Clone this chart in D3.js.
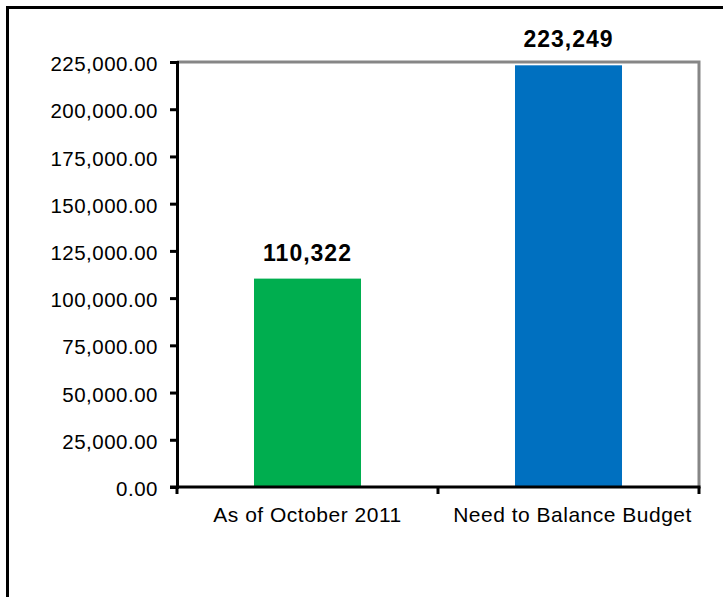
<!DOCTYPE html>
<html>
<head>
<meta charset="utf-8">
<script src="https://cdn.jsdelivr.net/npm/d3@7"></script>
<style>
	body { margin: 0; background: #fff; }
	svg { display: block; font-family: "Liberation Sans", Arial, sans-serif; }
	.tick text { fill: #000; }
</style>
</head>
<body>
<svg width="723" height="597"></svg>
<script>
var categories = ["As of October 2011", "Need to Balance Budget"];
var values = [110322, 223249];
var barColors = ["#00ae4f", "#0070c0"];
var yTicks = [0, 25000, 50000, 75000, 100000, 125000, 150000, 175000, 200000, 225000];

function draw() {
	var svg = d3.select("svg");
	var left = 177, right = 699, top = 62, bottom = 487;

	// outer frame runs past the bottom and right edge of the picture
	svg.append("rect")
		.attr("x", 7.5).attr("y", 7.5).attr("width", 800).attr("height", 700)
		.attr("fill", "none").attr("stroke", "#000").attr("stroke-width", 3);

	var x = d3.scaleBand().domain(categories).range([left, right])
		.paddingInner(0.59).paddingOuter(0.295);
	var y = d3.scaleLinear().domain([0, 225000]).range([bottom, top]);

	// gray plot border (top and right)
	svg.append("path")
		.attr("d", "M" + left + "," + top + "H" + right + "V" + bottom)
		.attr("fill", "none").attr("stroke", "#868686").attr("stroke-width", 3);

	svg.selectAll("rect.bar")
		.data(values)
		.enter().append("rect").attr("class", "bar")
			.attr("x", function(d, i) { return x(categories[i]); })
			.attr("y", function(d) { return y(d); })
			.attr("width", x.bandwidth())
			.attr("height", function(d) { return y(0) - y(d); })
			.attr("fill", function(d, i) { return barColors[i]; });

	svg.selectAll("text.value")
		.data(values)
		.enter().append("text").attr("class", "value")
			.attr("x", function(d, i) { return x(categories[i]) + x.bandwidth()/2; })
			.attr("y", function(d) { return y(d) - 18; })
			.attr("text-anchor", "middle")
			.attr("font-size", 23).attr("font-weight", "bold").attr("letter-spacing", 1)
			.text(d3.format(","));

	var fmt = d3.format(",.2f");
	var yAxis = svg.append("g").attr("transform", "translate(" + left + ",0)")
		.call(d3.axisLeft(y).tickValues(yTicks).tickFormat(fmt).tickSizeOuter(0).tickSize(7).tickPadding(12));
	yAxis.select(".domain").attr("stroke-width", 3);
	yAxis.selectAll(".tick line").attr("stroke-width", 3);
	yAxis.selectAll(".tick text").attr("font-size", 20.5).attr("letter-spacing", 0.5).attr("dy", "0.42em")
		.attr("font-family", "Liberation Sans, Arial, sans-serif");

	// category boundaries as ticks on the x axis
	var bounds = d3.scaleLinear().domain([0, categories.length]).range([left, right]);
	var xAxis = svg.append("g").attr("transform", "translate(0," + bottom + ")");
	xAxis.append("line").attr("x1", left - 7).attr("x2", right + 1.5)
		.attr("stroke", "#000").attr("stroke-width", 3);
	xAxis.selectAll("line.bound")
		.data(d3.range(categories.length + 1))
		.enter().append("line").attr("class", "bound")
			.attr("x1", function(d) { return bounds(d); }).attr("x2", function(d) { return bounds(d); })
			.attr("y1", 0).attr("y2", 7)
			.attr("stroke", "#000").attr("stroke-width", 3);
	xAxis.selectAll("text.cat")
		.data(categories)
		.enter().append("text").attr("class", "cat")
			.attr("x", function(d, i) { return x(d) + x.bandwidth()/2 + i*4; })
			.attr("y", 35)
			.attr("text-anchor", "middle")
			.attr("font-size", 21).attr("letter-spacing", 0.5)
			.text(function(d) { return d; });
}

draw();
</script>
</body>
</html>
